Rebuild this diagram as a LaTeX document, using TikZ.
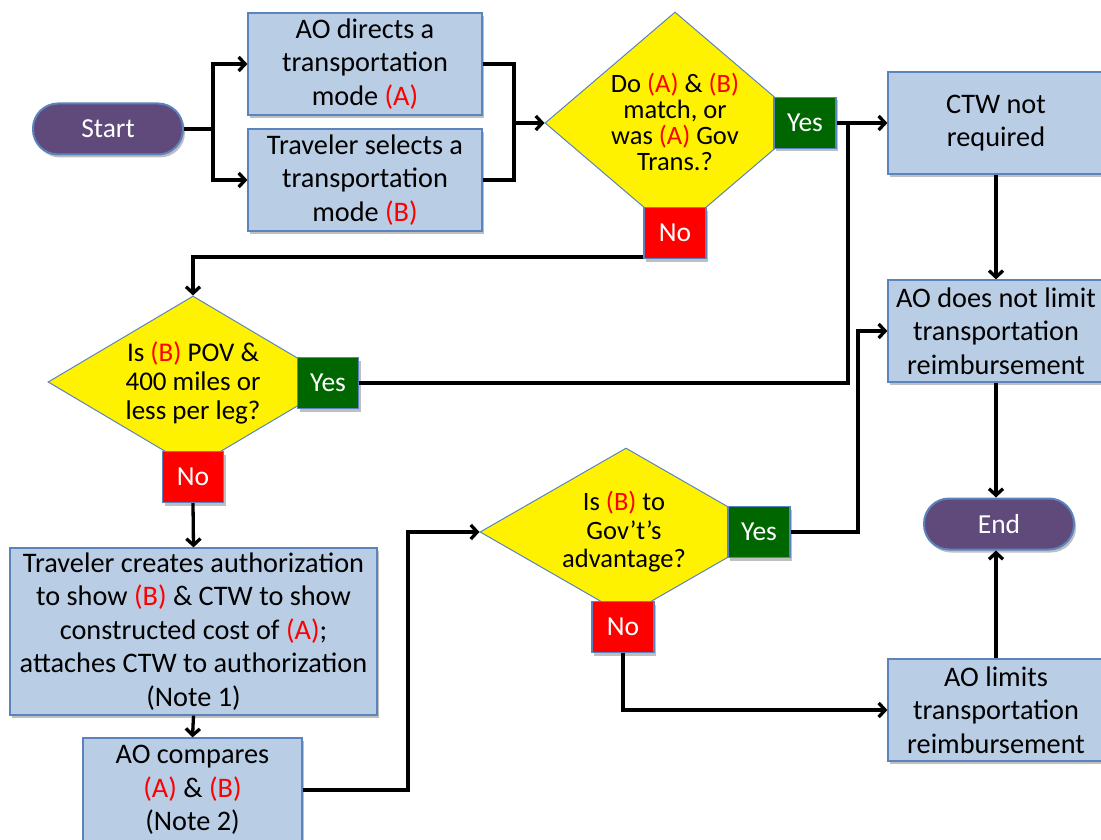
\documentclass[tikz,border=0pt]{standalone}
\usepackage{fontspec}
\setmainfont{Carlito}
\usetikzlibrary{shapes.geometric,arrows.meta,shadows}
\definecolor{boxblue}{HTML}{B9CDE5}
\definecolor{edgeblue}{HTML}{5B84BF}
\definecolor{termpurple}{HTML}{604A7B}
\definecolor{yesgreen}{HTML}{006600}
\definecolor{noRed}{HTML}{FF0000}
\newcommand{\redA}{\textcolor{noRed}{(A)}}
\newcommand{\redB}{\textcolor{noRed}{(B)}}
\begin{document}
\begin{tikzpicture}[x=1pt,y=-1pt,
  shad/.style={drop shadow={shadow xshift=2pt,shadow yshift=-3pt,opacity=0.25,fill=black}},
  box/.style={draw=edgeblue, line width=1.2pt, fill=boxblue, align=center, inner sep=0pt,
    font=\fontsize{28.3}{33.5}\selectfont, shad, execute at begin node={\rule{0pt}{27pt}}},
  term/.style={draw=edgeblue, line width=2pt, fill=termpurple, text=white, rounded corners=25pt,
    minimum width=150pt, minimum height=51pt, inner sep=0pt, font=\fontsize{27.5}{30}\selectfont, shad},
  dia/.style={diamond, draw=edgeblue, line width=1pt, fill=yellow, inner sep=0pt},
  dtext/.style={align=center, inner sep=0pt},
  tag/.style={draw=edgeblue, line width=1.2pt, text=white, minimum width=62pt, minimum height=51pt,
    inner sep=0pt, font=\fontsize{27.5}{30}\selectfont, shad},
  yestag/.style={tag, fill=yesgreen},
  notag/.style={tag, fill=noRed},
  conn/.style={line width=3.3pt, black},
  arr/.style={conn, -{Straight Barb[length=6.5pt,width=14pt,line width=3.3pt]}}
]
\useasboundingbox (0,0) rectangle (1101,840);

% terminals
\node[term] (start) at (108,129) {Start};
\node[term] (endn) at (999,524) {End};

% first row boxes
\node[box, minimum width=234pt, minimum height=102pt] (bA) at (365,64)
  {AO directs a\\transportation\\mode \redA};
\node[box, minimum width=234pt, minimum height=102pt] (bB) at (365,180)
  {Traveler selects a\\transportation\\mode \redB};

% decision 1
\node[dia, minimum width=260pt, minimum height=222pt] (d1) at (675,123) {};
\node[dtext, font=\fontsize{26.5}{26}\selectfont] (t1) at (675,122) {Do \redA{} \& \redB\\match, or\\was \redA{} Gov\\Trans.?};
\node[yestag] (y1) at (805,123) {Yes};
\node[notag] (n1) at (675,233) {No};

% right column
\node[box, minimum width=216pt, minimum height=102pt] (ctw) at (996,123) {CTW not\\required};
\node[box, minimum width=216pt, minimum height=102pt] (nolim) at (996,331)
  {AO does not limit\\transportation\\reimbursement};
\node[box, minimum width=216pt, minimum height=102pt] (lim) at (996,710)
  {AO limits\\transportation\\reimbursement};

% decision 2
\node[dia, minimum width=290pt, minimum height=172pt] (d2) at (193,382) {};
\node[dtext, font=\fontsize{27}{29}\selectfont] (t2) at (193,383) {Is \redB{} POV \&\\400 miles or\\less per leg?};
\node[yestag, minimum width=61pt] (y2) at (328,383) {Yes};
\node[notag, minimum width=61pt] (n2) at (193,477) {No};

% traveler / compare
\node[box, minimum width=367pt, minimum height=167pt] (trav) at (193.5,631.5)
  {Traveler creates authorization\\to show \redB{} \& CTW to show\\constructed cost of \redA;\\attaches CTW to authorization\\(Note 1)};
\node[box, minimum width=219pt, minimum height=104pt] (cmp) at (192.5,790)
  {AO compares\\\redA{} \& \redB\\(Note 2)};

% decision 3
\node[dia, minimum width=292pt, minimum height=168pt] (d3) at (626,532) {};
\node[dtext, font=\fontsize{26.5}{28.5}\selectfont] (t3) at (624,532) {Is \redB{} to\\Gov’t’s\\advantage?};
\node[yestag] (y3) at (759,532) {Yes};
\node[notag] (n3) at (623,627) {No};

% connectors
\coordinate (br) at (213,129);
\draw[conn] (start.east) -- (br);
\draw[arr] (br) |- (bA.west);
\draw[arr] (br) |- (bB.west);
\coordinate (mg) at (514,123);
\draw[conn] (bA.east) -| (mg);
\draw[conn] (bB.east) -| (mg);
\draw[arr] (mg) -- (d1.west);

\draw[arr] (y1.east) -- (ctw.west);
\draw[arr] (n1.south west) ++(0,-2) -| (d2.north);
\coordinate (j1) at (848,123);
\draw[conn] (y2.east) -| (j1);

\draw[arr] (n2.south) -- (trav.north);
\draw[arr] (trav.south) -- (cmp.north);
\coordinate (c3) at (408,790);
\draw[arr] (cmp.east) -- (c3) |- (d3.west);

\coordinate (c4) at (858,532);
\draw[arr] (y3.east) -- (c4) |- (nolim.west);
\draw[arr] (n3.south) |- (lim.west);

\draw[arr] (ctw.south) -- (nolim.north);
\draw[arr] (nolim.south) -- (nolim.south |- endn.north);
\draw[arr] (lim.north) -- (lim.north |- endn.south);
\end{tikzpicture}
\end{document}
